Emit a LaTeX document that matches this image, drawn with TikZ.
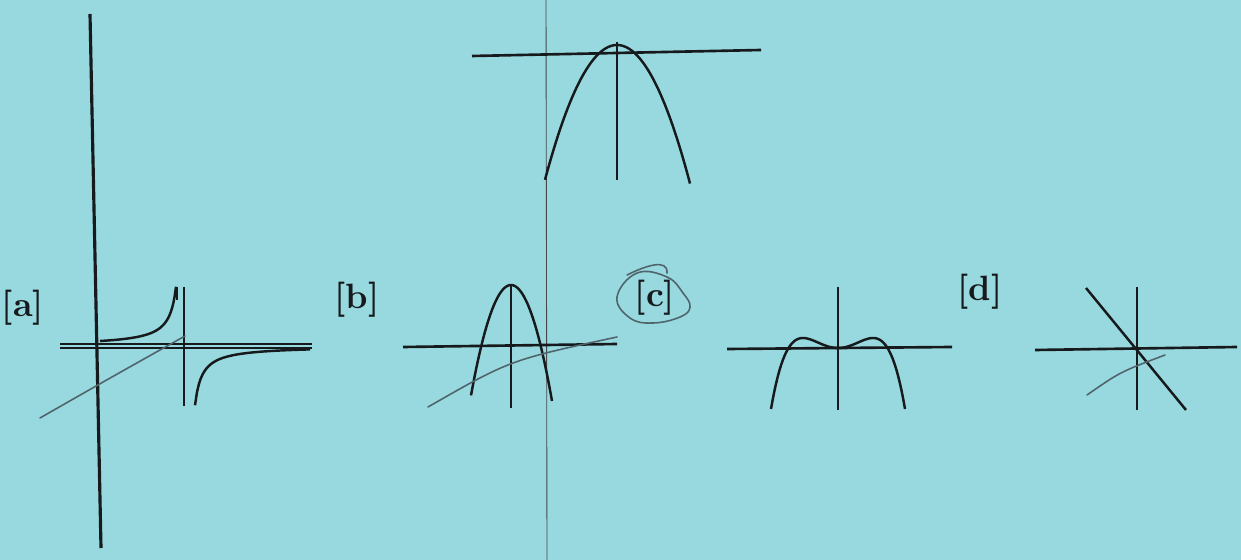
\documentclass[tikz,border=0pt]{standalone}
\usepackage{tikz}
\definecolor{paper}{RGB}{152,217,223}
\definecolor{ink}{RGB}{22,26,28}
\definecolor{pencil}{RGB}{80,100,108}

\begin{document}
\begin{tikzpicture}[x=0.1mm, y=-0.1mm,
  axis/.style={draw=ink, line width=0.75pt},
  curve/.style={draw=ink, line width=0.7pt, line join=round},
  pencil/.style={draw=pencil, line width=0.45pt, line cap=round},
  tag/.style={font=\normalsize\bfseries, text=ink, inner sep=0pt}]
  % page
  \fill[paper] (0,0) rectangle (1241,560);
  \useasboundingbox (0,0) rectangle (1241,560);
  \draw[ink!80, line width=0.25pt] (546,0) -- (547,560);
  \draw[axis, line width=0.9pt] (90,14) -- (101,548);

  % top graph
  \draw[axis] (472,56) -- (761,50);
  \draw[axis] (617,42) -- (617,180);
  \draw[curve] plot[domain=-72:73, samples=70] ({617+\x},{45+0.026*\x*\x});

  % labels
  \node[tag] (taga) at (23,308) {[a]};
  \node[tag] (tagb) at (357,300) {[b]};
  \node[tag] (tagc) at (655,298) {[c]};
  \node[tag] (tagd) at (980,292) {[d]};

  % [a]
  \draw[axis] (60,344) -- (312,344);
  \draw[axis, line width=0.5pt] (60,348) -- (312,348);
  \draw[axis] (184,287) -- (184,406);
  \draw[curve] plot[domain=100:176, samples=60] (\x,{346-415/(183-\x)});
  \draw[curve] (177,287) -- (177,300);
  \draw[curve] plot[domain=195:310, samples=60] (\x,{346+415/(\x-188)});
  \draw[pencil] (40,418) .. controls (110,378) .. (185,336);

  % [b]
  \draw[axis] (403,347) -- (617,344);
  \draw[axis] (511,285) -- (511,408);
  \draw[curve] plot[domain=-40:41, samples=60] ({511+\x},{285+0.069*\x*\x});
  \draw[pencil] (428,407) .. controls (510,360) .. (617,337);

  % [c]
  \draw[pencil] plot[smooth cycle, tension=0.7] coordinates {(617,297) (630,318) (653,323)
    (680,317) (690,307) (683,293) (667,277) (637,273)};
  \draw[pencil] (627,275) .. controls (645,266) and (668,258) .. (667,273);
  \draw[axis] (727,349) -- (952,347);
  \draw[axis] (838,287) -- (838,410);
  \draw[curve] plot[domain=-6.7:6.7, samples=80] ({838+10*\x},{348-1.633*\x*\x+0.06664*\x*\x*\x*\x});

  % [d]
  \draw[axis] (1035,350) -- (1237,347);
  \draw[axis] (1137,287) -- (1137,410);
  \draw[curve] (1086,288) -- (1186,410);
  \draw[pencil] (1087,395) .. controls (1120,372) .. (1165,355);
\end{tikzpicture}
\end{document}
